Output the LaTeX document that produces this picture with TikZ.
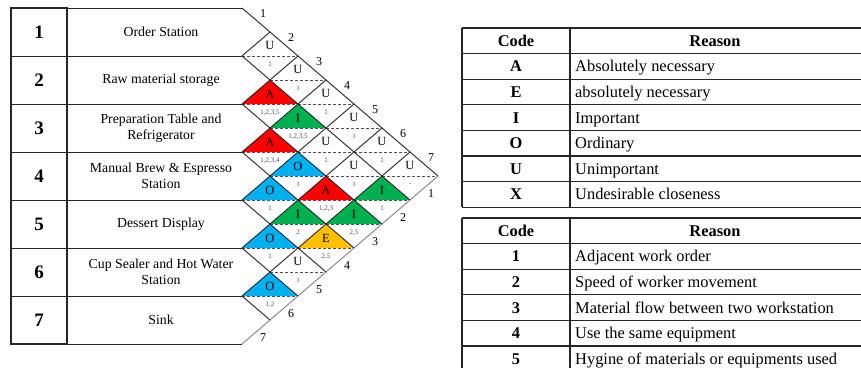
\documentclass[tikz,border=0pt]{standalone}
\usepackage{fontspec}
\setmainfont{Liberation Serif}
\usepackage{xcolor}
\usepackage{tikz}
\usetikzlibrary{positioning,calc}

\definecolor{codeA}{HTML}{FF0000}
\definecolor{codeE}{HTML}{FFC000}
\definecolor{codeI}{HTML}{00B050}
\definecolor{codeO}{HTML}{00B0F0}
\definecolor{codeU}{HTML}{FFFFFF}
\definecolor{rule}{HTML}{262626}
\definecolor{whyink}{HTML}{4E4C66}

\begin{document}
\begin{tikzpicture}[
      x=1pt, y=-1pt,
      grid/.style={draw=rule, line width=0.9pt},
      midline/.style={draw=rule!80, line width=0.8pt, dash pattern=on 3pt off 2pt},
      tab/.style={draw=rule, line width=1.1pt},
      num/.style={font=\fontsize{19}{22}\selectfont\bfseries},
      station/.style={align=center, font=\fontsize{13.8}{16.5}\selectfont},
      rel/.style={font=\fontsize{12.5}{14}\selectfont, inner sep=0pt},
      why/.style={font=\fontsize{7}{8}\selectfont, text=whyink, inner sep=0pt},
      tick/.style={font=\fontsize{12}{14}\selectfont, inner sep=0pt},
      cell/.style={font=\fontsize{16.4}{19}\selectfont, inner sep=0pt,
                   text height=12pt, text depth=1pt},
      head/.style={cell, font=\fontsize{16.4}{19}\selectfont\bfseries}]

    \useasboundingbox (0,0) rectangle (861,368);

    % station list
    \draw[tab, line width=1.3pt] (11,8) rectangle (67,344);
    \foreach \y in {8,56,...,344}
      \draw[grid] (11,\y) -- (242,\y);
    \foreach \k in {1,...,7}
      \node[num] (no\k) at (39,{48*\k-16}) {\k};

    \node[station] (st1) at (161,32) {Order Station};
    \node[station] (st2) at (161,80) {Raw material storage};
    \node[station] (st3) at (161,128) {Preparation Table and\\Refrigerator};
    \node[station] (st4) at (161,176) {Manual Brew \& Espresso\\Station};
    \node[station] (st5) at (161,224) {Dessert Display};
    \node[station] (st6) at (161,272) {Cup Sealer and Hot Water\\Station};
    \node[station] (st7) at (161,320) {Sink};

    % relationship diamonds, one per pair of stations
    \begin{scope}[shift={(242,8)}, x=28pt, y=-24pt]
      \foreach \i/\j/\code/\why in {
          1/2/U/1, 1/3/U/1, 1/4/U/1, 1/5/U/1, 1/6/U/1, 1/7/U/-,
          2/3/A/{1,2,3,5}, 2/4/I/{1,2,3,5}, 2/5/U/1, 2/6/U/1, 2/7/I/1,
          3/4/A/{1,2,3,4}, 3/5/O/1, 3/6/A/{1,2,3}, 3/7/I/{2,5},
          4/5/O/1, 4/6/I/2, 4/7/E/{2,5},
          5/6/O/1, 5/7/U/1,
          6/7/O/{1,2}} {
        \pgfmathtruncatemacro\col{\j-\i}
        \pgfmathtruncatemacro\lvl{\i+\j-1}
        \fill[code\code] (\col-1,\lvl) -- (\col,\lvl-1) -- (\col+1,\lvl) -- cycle;
        \draw[midline] (\col-1,\lvl) -- (\col+1,\lvl);
        \node[rel] (rel\i\j) at (\col,\lvl-0.42) {\code};
        \node[why] (why\i\j) at (\col,\lvl+0.36) {\why};
      }

      \foreach \m in {0,...,6}
        \draw[grid] (0,2*\m) -- (7-\m,7+\m);
      \foreach \m in {1,...,6}
        \draw[grid] (0,2*\m) -- (\m,\m);
      \draw[grid, draw=gray] (0,14) -- (7,7);

      \foreach \k in {1,...,7} {
        \node[tick, xshift=7pt, yshift=6pt] (top\k) at (\k-0.5,\k-0.5) {\k};
        \node[tick, xshift=7pt, yshift=-6pt] (bot\k) at (7.5-\k,6.5+\k) {\k};
      }
    \end{scope}

    % closeness codes
    \foreach \k in {0,...,7}
      \draw[tab] (462,{28+25.6*\k}) -- (861,{28+25.6*\k});
    \draw[tab] (462,28) -- (462,207.2);
    \draw[tab] (570,28) -- (570,207.2);
    \node[head] (codehead) at (516,40.8) {Code};
    \node[head] (reasonhead) at (715,40.8) {Reason};
    \foreach \c/\txt [count=\k] in {A/Absolutely necessary, E/absolutely necessary,
        I/Important, O/Ordinary, U/Unimportant, X/Undesirable closeness} {
      \node[head] (key\c) at (516,{40.8+25.6*\k}) {\c};
      \node[cell, anchor=west] (txt\c) at (575,{40.8+25.6*\k}) {\txt};
    }

    % reason codes
    \foreach \k in {0,...,5}
      \draw[tab] (462,{218+25.6*\k}) -- (861,{218+25.6*\k});
    \draw[tab] (462,218) -- (462,368);
    \draw[tab] (570,218) -- (570,368);
    \node[head] (numhead) at (516,230.8) {Code};
    \node[head] (whyhead) at (715,230.8) {Reason};
    \foreach \txt [count=\k] in {Adjacent work order, Speed of worker movement,
        Material flow between two workstation, Use the same equipment,
        Hygine of materials or equipments used} {
      \node[head] (key\k) at (516,{230.8+25.6*\k}) {\k};
      \node[cell, anchor=west] (txt\k) at (575,{230.8+25.6*\k}) {\txt};
    }
  \end{tikzpicture}
\end{document}
